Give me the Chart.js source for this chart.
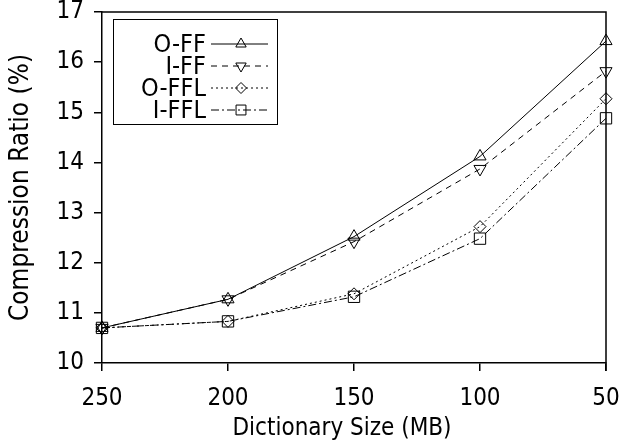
<!DOCTYPE html>
<html>
<head>
<meta charset="utf-8">
<script src="https://cdn.jsdelivr.net/npm/chart.js@4"></script>
<style>
html, body { margin: 0; padding: 0; background: #fff; }
#wrap { width: 619px; height: 447px; }
</style>
</head>
<body>
<div id="wrap"><canvas id="ratioChart"></canvas></div>
<script>
// Données
const dictSizes = ['250', '200', '150', '100', '50'];
const oFF  = [10.70, 11.27, 12.52, 14.12, 16.42];
const iFF  = [10.70, 11.27, 12.42, 13.87, 15.82];
const oFFL = [10.70, 10.83, 11.38, 12.72, 15.27];
const iFFL = [10.70, 10.83, 11.32, 12.48, 14.88];
const yTicks = [10, 11, 12, 13, 14, 15, 16, 17];

const FONT = 'DejaVu Sans Condensed';
const X_TITLE = 'Dictionary Size (MB)';

const series = [
    { label: 'O-FF',  data: oFF,  dash: [],           style: 'triangle', rot: 0,   r: 7, lr: 6 },
    { label: 'I-FF',  data: iFF,  dash: [6, 5],       style: 'triangle', rot: 180, r: 7, lr: 6 },
    { label: 'O-FFL', data: oFFL, dash: [2, 3],       style: 'rectRot',  rot: 0,   r: 6, lr: 5.5 },
    { label: 'I-FFL', data: iFFL, dash: [8, 3, 2, 3], style: 'rect',     rot: 0,   r: 8, lr: 7 }
];

// Cadre haut/droite, titre de l'axe X et légende dessinée à la main
const framePlugin = {
    id: 'framePlugin',
    afterDraw(chart) {
        const ctx = chart.ctx;
        const a = chart.chartArea;
        ctx.save();
        ctx.strokeStyle = '#000';
        ctx.lineWidth = 1.5;
        ctx.beginPath();
        ctx.moveTo(a.left, a.top);
        ctx.lineTo(a.right, a.top);
        ctx.lineTo(a.right, a.bottom + 8);
        ctx.stroke();

        // titre de l'axe X (légèrement décalé à gauche comme l'original)
        ctx.fillStyle = '#000';
        ctx.font = '24px "' + FONT + '"';
        ctx.textAlign = 'center';
        ctx.textBaseline = 'middle';
        ctx.fillText(X_TITLE, 342, 429);

        // légende
        ctx.lineWidth = 1;
        ctx.fillStyle = '#fff';
        ctx.fillRect(113, 19, 165, 106);
        ctx.strokeRect(113.5, 19.5, 164, 105);
        ctx.font = '25px "' + FONT + '"';
        ctx.textAlign = 'right';
        series.forEach(function(s, i) {
            const y = 44 + i * 22;
            ctx.fillStyle = '#000';
            ctx.fillText(s.label, 206, y + 1);
            ctx.setLineDash(s.dash);
            ctx.beginPath();
            ctx.moveTo(211, y);
            ctx.lineTo(268, y);
            ctx.stroke();
            ctx.setLineDash([]);
            ctx.fillStyle = 'rgba(0,0,0,0)';
            Chart.helpers.drawPoint(ctx, {
                pointStyle: s.style, radius: s.lr, rotation: s.rot, borderWidth: 1
            }, 241, y);
        });
        ctx.restore();
    }
};

new Chart(document.getElementById('ratioChart'), {
    type: 'line',
    data: {
        labels: dictSizes,
        datasets: series.map(function(s) {
            return {
                label: s.label,
                data: s.data,
                borderColor: '#000',
                borderWidth: 1,
                borderDash: s.dash,
                tension: 0,
                pointStyle: s.style,
                pointRotation: s.rot,
                pointRadius: s.r,
                pointBorderWidth: 1,
                pointBorderColor: '#000',
                pointBackgroundColor: 'rgba(0,0,0,0)'
            };
        })
    },
    options: {
        responsive: true,
        maintainAspectRatio: false,
        animation: false,
        devicePixelRatio: 1,
        layout: { padding: { top: 12, right: 13, left: 0, bottom: 0 } },
        plugins: { legend: { display: false }, tooltip: { enabled: false } },
        scales: {
            x: {
                offset: false,
                grid: { drawOnChartArea: false, drawTicks: true, tickLength: 8, color: '#000', lineWidth: 1.5 },
                border: { color: '#000', width: 1.5 },
                ticks: { color: '#000', font: { family: FONT, size: 24 }, padding: 13, maxRotation: 0 },
                title: { display: false },
                afterFit: function(scale) {
                    scale.height = 84;
                    scale.paddingLeft = 0;
                    scale.paddingRight = 0;
                }
            },
            y: {
                min: 10, max: 17,
                afterBuildTicks: function(scale) {
                    scale.ticks = yTicks.map(function(v) { return { value: v }; });
                },
                grid: { drawOnChartArea: false, drawTicks: true, tickLength: 8, color: '#000', lineWidth: 1.5 },
                border: { color: '#000', width: 1.5 },
                ticks: { color: '#000', font: { family: FONT, size: 24 }, padding: 10 },
                title: { display: true, text: 'Compression Ratio (%)', color: '#000',
                         font: { family: FONT, size: 26 }, padding: { top: 6, bottom: 0 } },
                afterFit: function(scale) {
                    scale.width = 102;
                    scale.paddingTop = 0;
                    scale.paddingBottom = 0;
                }
            }
        }
    },
    plugins: [framePlugin]
});
</script>
</body>
</html>
